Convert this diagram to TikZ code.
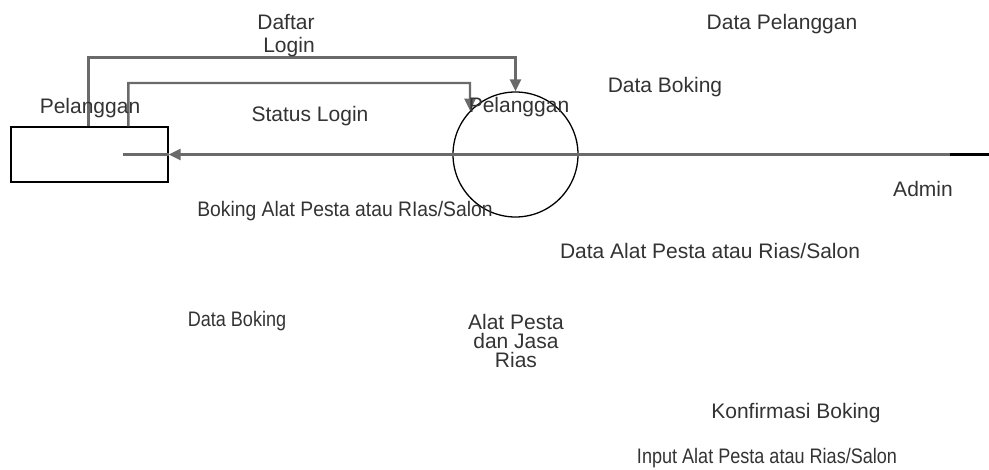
\documentclass[tikz,border=0pt]{standalone}
\usepackage{fontspec}
\setmainfont{Liberation Sans}
\usetikzlibrary{arrows.meta}
\definecolor{txtgray}{HTML}{333333}
\definecolor{linegray}{HTML}{6A6A6A}
\tikzset{
  lbl/.style={anchor=base, inner sep=0pt, text=txtgray, font=\fontsize{21}{23}\selectfont},
  flow/.style={draw=linegray, line width=2.4pt, -{Triangle[length=12pt,width=11pt]}, color=linegray},
  plainline/.style={draw=linegray, line width=2.4pt},
  entity/.style={draw=black, line width=1.4pt, minimum width=157pt, minimum height=55pt, inner sep=0pt},
  proc/.style={circle, draw=black, line width=1.3pt, minimum size=125pt, inner sep=0pt}
}
\begin{document}
\begin{tikzpicture}[x=1pt,y=-1pt]
\useasboundingbox (0,0) rectangle (989,470);
% shapes
\node[entity] (pel) at (89.5,154.5) {};
\node[proc] (prc) at (515.5,154.5) {};
% free ends
\coordinate (c2) at (470,83);
\coordinate (rend) at (989,154.5);
\coordinate (bend) at (950,154.5);
\coordinate (stub) at (123,154.5);
% connectors
\draw[flow] ([xshift=78pt]pel.north west) |- ([yshift=34pt]prc.north) -- (prc.north);
\draw[flow] ([xshift=118pt]pel.north west) |- (c2) -- (prc.136.75);
\draw[flow] (bend) -- (pel.east);
\draw[plainline] (pel.east) -- (stub);
\draw[black, line width=2.4pt] (rend) -- (bend);
% labels
\node[lbl] (t1) at (286,30) {Daftar};
\node[lbl] (t2) at (289,53) {Login};
\node[lbl] (t3) at (310,122) {Status Login};
\node[lbl] (t4) at (90,114) {Pelanggan};
\node[lbl] (t5) at (519,113) {Pelanggan};
\node[lbl] (t6) at (782,30) {Data Pelanggan};
\node[lbl] (t7) at (665,93) {Data Boking};
\node[lbl] (t8) at (923,197) {Admin};
\node[lbl] (t9) at (345,217) {\scalebox{0.92}[1]{Boking Alat Pesta atau RIas/Salon}};
\node[lbl] (t10) at (710,259) {Data Alat Pesta atau Rias/Salon};
\node[lbl] (t11) at (237,327) {\scalebox{0.86}[1]{Data Boking}};
\node[lbl] (t12) at (516,330) {Alat Pesta};
\node[lbl] (t13) at (516,349) {dan Jasa};
\node[lbl] (t14) at (516,368) {Rias};
\node[lbl] (t15) at (796,419) {Konfirmasi Boking};
\node[lbl] (t16) at (767,464) {\scalebox{0.86}[1]{Input Alat Pesta atau Rias/Salon}};
\end{tikzpicture}
\end{document}
